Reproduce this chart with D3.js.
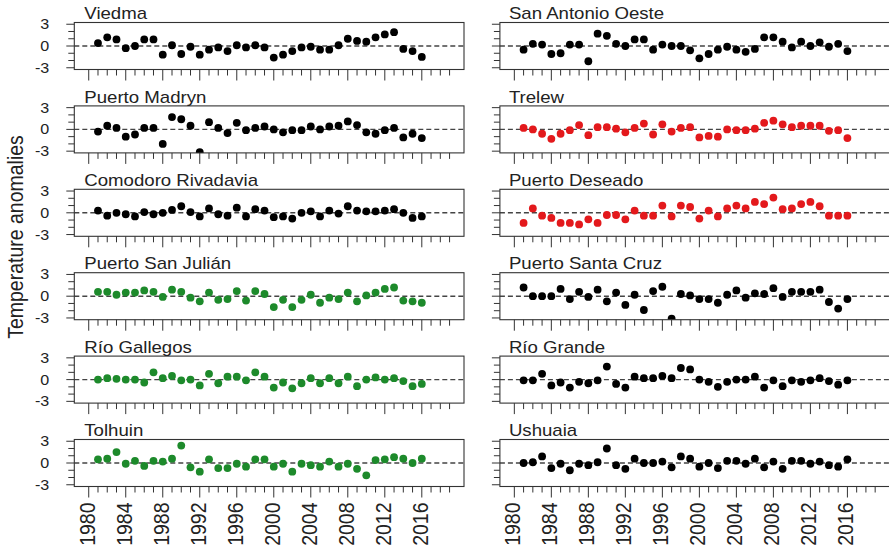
<!DOCTYPE html>
<html lang="en">
<head>
    <meta charset="utf-8">
    <title>Temperature anomalies</title>
    <style>
        body {
            margin: 0;
            background-color: white;
        }
        text {
            font-family: "Liberation Sans", Arial, sans-serif;
            fill: #222;
        }
        .box {
            fill: none;
            stroke: #333;
            stroke-width: 1.1;
        }
        .tick-line {
            stroke: #333;
            stroke-width: 1;
        }
        .zero {
            stroke: #444;
            stroke-width: 1.4;
            stroke-dasharray: 5, 3;
        }
    </style>
</head>
<body>
<script src="https://d3js.org/d3.v7.min.js"></script>
<script>
    var years = d3.range(1981, 2017);
    var xTickYears = d3.range(1980, 2020);
    var xLabelYears = d3.range(1980, 2017, 4);
    var yTicks = [-3, -2, -1, 0, 1, 2, 3];
    var yLabels = [-3, 0, 3];

    var viedma = [0.4, 1.2, 0.9, -0.3, 0.0, 0.9, 0.9, -1.2, 0.1, -1.1, -0.1, -1.2, -0.5, -0.2, -0.7, 0.1, -0.2, 0.1, -0.2, -1.6,
        -1.2, -0.7, -0.2, -0.1, -0.5, -0.5, 0.1, 1.0, 0.7, 0.6, 1.2, 1.6, 1.9, -0.4, -0.7, -1.5];
    var sanAntonio = [-0.5, 0.3, 0.2, -1.1, -1.0, 0.2, 0.2, -2.1, 1.7, 1.4, 0.3, 0.0, 0.9, 0.9, -0.5, 0.2, 0.0, 0.0, -0.6, -1.7,
        -1.1, -0.5, -0.1, -0.5, -0.8, -0.4, 1.2, 1.2, 0.6, -0.2, 0.6, 0.0, 0.5, -0.1, 0.3, -0.7];
    var madryn = [-0.3, 0.5, 0.2, -1.0, -0.7, 0.2, 0.2, -2.0, 1.7, 1.4, 0.5, -3.15, 1.0, 0.2, -0.5, 0.9, -0.1, 0.2, 0.4, 0.0,
        -0.4, -0.1, -0.1, 0.4, 0.0, 0.4, 0.5, 1.1, 0.6, -0.4, -0.6, -0.1, 0.2, -1.1, -0.6, -1.2];
    var trelew = [0.2, 0.0, -0.6, -1.3, -0.6, -0.1, 0.6, -0.8, 0.3, 0.3, 0.1, -0.4, 0.2, 0.8, -0.7, 0.7, -0.3, 0.2, 0.3, -1.1,
        -0.9, -1.0, 0.0, -0.1, -0.1, 0.1, 0.9, 1.2, 0.7, 0.3, 0.5, 0.5, 0.5, -0.2, -0.1, -1.2];
    var comodoro = [0.3, -0.4, 0.0, -0.2, -0.5, 0.1, -0.2, 0.0, 0.4, 0.9, 0.1, -0.5, 0.6, -0.2, -0.4, 0.7, -0.5, 0.5, 0.3, -0.6,
        -0.5, -0.8, 0.0, 0.2, -0.5, 0.3, -0.1, 0.9, 0.3, 0.2, 0.2, 0.3, 0.5, 0.0, -0.7, -0.5];
    var deseado = [-1.4, 0.6, -0.4, -0.7, -1.4, -1.4, -1.6, -0.9, -1.4, -0.3, -0.3, -0.9, 0.3, -0.4, -0.4, 1.0, -0.5, 1.0, 0.8, -0.8,
        0.3, -0.5, 0.6, 1.0, 0.6, 1.5, 1.2, 2.1, 0.5, 0.6, 1.2, 1.5, 0.9, -0.4, -0.4, -0.4];
    var sanJulian = [0.6, 0.6, 0.2, 0.5, 0.5, 0.8, 0.6, -0.1, 0.9, 0.6, -0.2, -0.7, 0.5, -0.5, -0.4, 0.7, -0.6, 0.7, 0.3, -1.5,
        -0.5, -1.5, -0.5, 0.2, -0.9, -0.2, -0.4, 0.5, -0.7, 0.1, 0.5, 1.0, 1.2, -0.6, -0.7, -0.9];
    var santaCruz = [1.2, 0.0, 0.0, 0.0, 1.0, -0.4, 0.6, -0.1, 0.9, -0.7, 0.5, -1.2, 0.2, -1.9, 0.7, 1.3, -3.1, 0.3, 0.1, -0.4,
        -0.4, -0.9, 0.2, 0.8, -0.2, 0.4, 0.3, 1.1, -0.1, 0.6, 0.6, 0.6, 0.9, -0.8, -1.7, -0.4];
    var gallegos = [0.0, 0.2, 0.1, 0.0, 0.0, -0.4, 1.0, 0.2, 0.5, -0.1, 0.0, -0.8, 0.8, -0.5, 0.4, 0.4, -0.1, 1.0, 0.4, -1.1,
        -0.4, -1.2, -0.5, 0.2, -0.5, 0.2, -0.5, 0.4, -0.9, 0.0, 0.3, 0.0, 0.2, -0.2, -0.9, -0.6];
    var rioGrande = [-0.1, -0.1, 0.8, -0.8, -0.4, -1.1, -0.3, -0.5, -0.1, 1.8, -0.6, -1.1, 0.4, 0.2, 0.2, 0.5, 0.2, 1.6, 1.4, 0.0,
        -0.3, -1.0, -0.3, 0.0, 0.0, 0.4, -1.1, -0.1, -0.9, -0.1, -0.3, -0.1, 0.2, -0.2, -0.7, -0.1];
    var tolhuin = [0.5, 0.6, 1.5, -0.1, 0.3, -0.4, 0.3, 0.2, 0.6, 2.4, -0.6, -1.2, 0.5, -0.7, -0.7, -0.1, -0.5, 0.5, 0.5, -0.5,
        -0.1, -1.2, -0.1, -0.3, -0.5, 0.2, -0.5, -0.1, -0.8, -1.7, 0.4, 0.5, 0.8, 0.6, 0.0, 0.6];
    var ushuaia = [0.0, 0.1, 0.9, -0.7, -0.1, -1.0, -0.1, -0.3, 0.1, 2.0, -0.3, -0.8, 0.6, 0.0, 0.0, 0.2, -0.6, 0.9, 0.6, -0.5,
        0.0, -0.7, 0.3, 0.3, -0.1, 0.6, -0.6, 0.2, -0.8, 0.3, 0.3, -0.1, 0.2, -0.3, -0.5, 0.5];

    // panels in reading order: left column then right column per row
    var stationNames = ["Viedma", "San Antonio Oeste", "Puerto Madryn", "Trelew", "Comodoro Rivadavia", "Puerto Deseado",
        "Puerto San Julián", "Puerto Santa Cruz", "Río Gallegos", "Río Grande", "Tolhuin", "Ushuaia"];
    var stationValues = [viedma, sanAntonio, madryn, trelew, comodoro, deseado,
        sanJulian, santaCruz, gallegos, rioGrande, tolhuin, ushuaia];
    var stationColors = ["black", "black", "black", "#e3191c", "black", "#e3191c",
        "#1d8a2b", "black", "#1d8a2b", "black", "#1d8a2b", "black"];

    var width = 889, height = 555;
    var stretch = 1.15; // glyphs in the figure are a bit wider than tall
    var colLeft = [74.3, 499.9];
    var boxW = 389.7, boxH = 47;
    var rowTop = 22.5, rowStep = 83.4;
    var nRows = 6;

    var svg = d3.select("body").append("svg")
        .attr("width", width)
        .attr("height", height);

    var x = d3.scaleLinear().domain([1978.44, 2020.56]).range([0, boxW]);
    var y = d3.scaleLinear().domain([-3.24, 3.24]).range([boxH, 0]);

    function stretchedText(g, tx, ty, rot) {
        return g.append("text")
            .attr("transform", "translate(" + tx + "," + ty + ") scale(" + stretch + ",1)" + (rot ? " rotate(" + rot + ")" : ""));
    }

    stationNames.forEach(function(name, i) {
        var col = i % 2, row = Math.floor(i / 2);
        var g = svg.append("g")
            .attr("transform", "translate(" + colLeft[col] + "," + (rowTop + row * rowStep) + ")");

        g.append("clipPath").attr("id", "clip" + i)
            .append("rect").attr("width", boxW).attr("height", boxH);

        // y ticks
        g.selectAll(".yt").data(yTicks).enter().append("line")
            .attr("class", "tick-line")
            .attr("x1", function(d) { return yLabels.indexOf(d) >= 0 ? -8 : -6; })
            .attr("x2", 0)
            .attr("y1", function(d) { return y(d); })
            .attr("y2", function(d) { return y(d); });

        if (col === 0) {
            yLabels.forEach(function(v) {
                stretchedText(g, -25, y(v) + 5, 0)
                    .attr("text-anchor", "end")
                    .style("font-size", "14px")
                    .text(v);
            });
        }

        // x ticks
        g.selectAll(".xt").data(xTickYears).enter().append("line")
            .attr("class", "tick-line")
            .attr("x1", function(d) { return x(d); })
            .attr("x2", function(d) { return x(d); })
            .attr("y1", boxH)
            .attr("y2", function(d) { return boxH + (d % 4 === 0 ? 11 : 6); });

        if (row === nRows - 1) {
            xLabelYears.forEach(function(yr) {
                stretchedText(g, x(yr) + 6, boxH + 16, -90)
                    .attr("text-anchor", "end")
                    .style("font-size", "19.5px")
                    .text(yr);
            });
        }

        g.append("line")
            .attr("class", "zero")
            .attr("x1", 0).attr("x2", boxW)
            .attr("y1", y(0)).attr("y2", y(0));

        g.append("g").attr("clip-path", "url(#clip" + i + ")")
            .selectAll("circle")
            .data(stationValues[i])
            .enter().append("circle")
            .attr("cx", function(d, j) { return x(years[j]); })
            .attr("cy", function(d) { return y(d); })
            .attr("r", 3.9)
            .style("fill", stationColors[i]);

        g.append("rect")
            .attr("class", "box")
            .attr("width", boxW)
            .attr("height", boxH);

        stretchedText(g, col === 0 ? 10 : 9, -3.3, 0)
            .style("font-size", "16.2px")
            .text(name);
    });

    stretchedText(svg, 23, 237, -90)
        .attr("text-anchor", "middle")
        .style("font-size", "19.5px")
        .text("Temperature anomalies");
</script>
</body>
</html>
